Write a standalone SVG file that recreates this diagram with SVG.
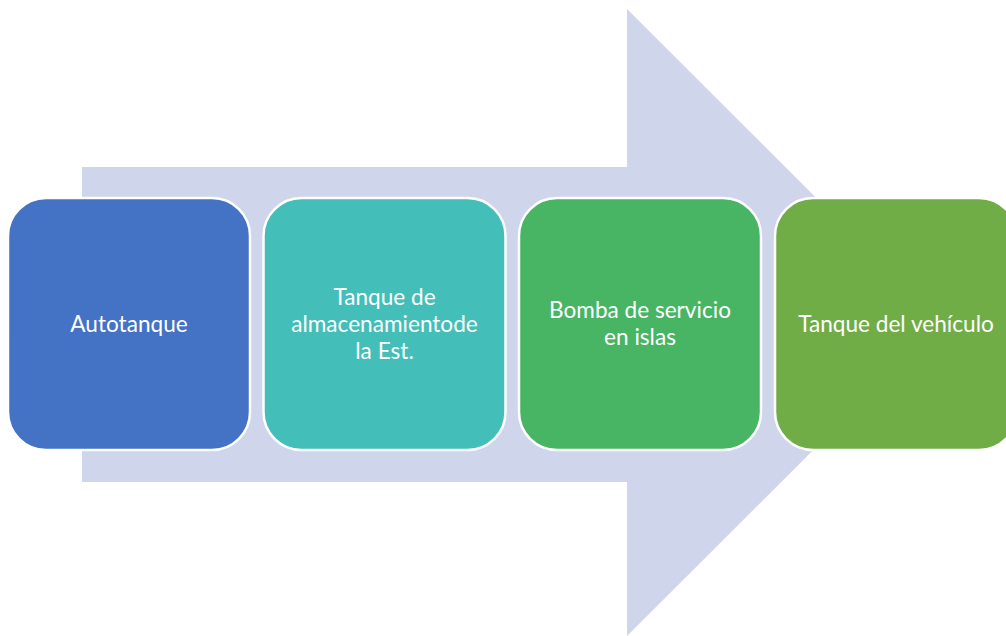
<svg xmlns="http://www.w3.org/2000/svg" width="1006" height="636" viewBox="0 0 1006 636">
<style>
.box{stroke:#FFFFFF;stroke-width:2.5}
.t{font-family:Lato,"Open Sans",sans-serif;font-size:22.6px;fill:#FFFFFF;text-anchor:middle}
</style>
<rect width="1006" height="636" fill="#FFFFFF"/>
<g id="arrow">
<polygon points="82,167 627,167 627,9 941,322.5 627,636 627,482 82,482" fill="#CFD5EA"/>
</g>
<g id="node1">
<rect class="box" x="8" y="198" width="242" height="252" rx="38" fill="#4472C4"/>
<text class="t" x="129" y="332">Autotanque</text>
</g>
<g id="node2">
<rect class="box" x="263.5" y="198" width="242" height="252" rx="38" fill="#43BEB8"/>
<text class="t" x="384.5" y="305">Tanque de</text>
<text class="t" x="384.5" y="332">almacenamientode</text>
<text class="t" x="384.5" y="359">la Est.</text>
</g>
<g id="node3">
<rect class="box" x="519" y="198" width="242" height="252" rx="38" fill="#47B564"/>
<text class="t" x="640" y="318">Bomba de servicio</text>
<text class="t" x="640" y="345">en islas</text>
</g>
<g id="node4">
<rect class="box" x="775" y="198" width="242" height="252" rx="38" fill="#70AD47"/>
<text class="t" x="896" y="332">Tanque del vehículo</text>
</g>
<g id="connectors"></g>
</svg>
